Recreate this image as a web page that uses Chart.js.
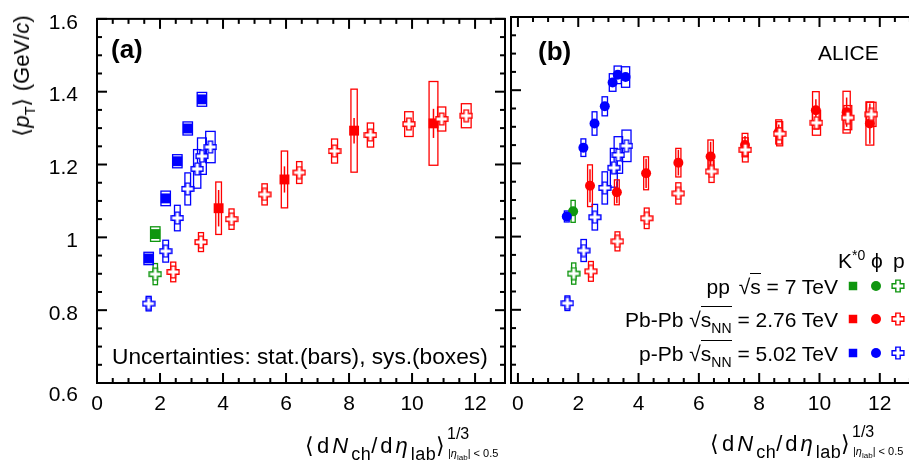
<!DOCTYPE html>
<html>
<head>
<meta charset="utf-8">
<script src="https://cdn.jsdelivr.net/npm/chart.js@4.4.1/dist/chart.umd.min.js"></script>
<style>
body { margin: 0; width: 909px; height: 463px; overflow: hidden; position: relative; background: #fff;
  font-family: "Liberation Sans", Arial, sans-serif; color: #000; }
#ca { position: absolute; left: 0; top: 0; }
#cb { position: absolute; left: 505px; top: 0; }
.t { position: absolute; white-space: nowrap; line-height: 1; }
.xm { font-size: 22px; letter-spacing: 3px; }
.sb { font-size: 18px; position: relative; top: 7px; letter-spacing: 0.5px; }
.ov { border-top: 1.3px solid #000; padding-top: 1px; }
.ovs { font-size: 14px; position: relative; top: 6px; }
</style>
</head>
<body>
<canvas id="ca" width="512" height="463"></canvas>
<canvas id="cb" width="420" height="463"></canvas>

<div class="t" style="left:22px;top:76px;font-size:22px;transform:translate(-50%,-50%) rotate(-90deg);">⟨<i>p</i><span style="font-size:15px;position:relative;top:6px">T</span>⟩ (GeV/<i>c</i>)</div>

<div class="t" style="left:111px;top:36px;font-size:26px;font-weight:bold;">(a)</div>
<div class="t" style="left:538px;top:38px;font-size:26px;font-weight:bold;">(b)</div>
<div class="t" style="left:818px;top:42px;font-size:21px;">ALICE</div>
<div class="t" style="left:112px;top:345px;font-size:22.7px;">Uncertainties: stat.(bars), sys.(boxes)</div>

<div class="t xm" style="left:305px;top:435px;">⟨d<i>N</i><span class="sb">ch</span>/d<i>η</i><span class="sb">lab</span>⟩</div>
<div class="t" style="left:447px;top:426px;font-size:16px;">1/3</div>
<div class="t" style="left:448px;top:448px;font-size:11px;">|<i>η</i><span style="font-size:8px;position:relative;top:3px">lab</span>| &lt; 0.5</div>

<div class="t xm" style="left:710px;top:433px;">⟨d<i>N</i><span class="sb">ch</span>/d<i>η</i><span class="sb">lab</span>⟩</div>
<div class="t" style="left:852px;top:424px;font-size:16px;">1/3</div>
<div class="t" style="left:853px;top:446px;font-size:11px;">|<i>η</i><span style="font-size:8px;position:relative;top:3px">lab</span>| &lt; 0.5</div>

<div class="t" style="left:838px;top:250px;font-size:21px;">K<span style="font-size:14px;position:relative;top:-8px">*0</span></div>
<div class="t" style="left:871px;top:250px;font-size:21px;">ϕ</div>
<div class="t" style="left:893px;top:250px;font-size:21px;">p</div>
<div class="t" style="right:71px;top:276px;font-size:21px;">pp <span style="margin-left:3px">√</span><span class="ov">s</span> = 7 TeV</div>
<div class="t" style="right:71px;top:309px;font-size:21px;">Pb-Pb √<span class="ov">s<span class="ovs">NN</span></span> = 2.76 TeV</div>
<div class="t" style="right:71px;top:343px;font-size:21px;">p-Pb √<span class="ov">s<span class="ovs">NN</span></span> = 5.02 TeV</div>

<script>
var family = '"Liberation Sans", Arial, sans-serif';

// axis ticks
var xTicks = [0, 2, 4, 6, 8, 10, 12];
var yTicks = [0.6, 0.8, 1, 1.2, 1.4, 1.6];
var xMinorStep = 0.5, yMinorStep = 0.05;

// protons, Pb-Pb 2.76 TeV (shown in both panels)
var pPbPbX    = [2.42, 3.30, 4.27, 5.32, 6.42, 7.54, 8.68, 9.90, 10.94, 11.72];
var pPbPbY    = [0.905, 0.987, 1.050, 1.118, 1.178, 1.237, 1.281, 1.311, 1.325, 1.334];
var pPbPbStat = [0.005, 0.005, 0.005, 0.005, 0.005, 0.005, 0.005, 0.005, 0.005, 0.005];
var pPbPbSys  = [0.027, 0.026, 0.028, 0.029, 0.030, 0.033, 0.033, 0.034, 0.033, 0.033];
var pPbPbXSys = [0.08, 0.08, 0.08, 0.085, 0.085, 0.095, 0.10, 0.135, 0.13, 0.155];

// protons, p-Pb 5.02 TeV
var ppPbX    = [1.64, 2.18, 2.55, 2.88, 3.18, 3.33, 3.60];
var ppPbY    = [0.818, 0.962, 1.053, 1.133, 1.188, 1.223, 1.248];
var ppPbStat = [0.004, 0.004, 0.004, 0.004, 0.004, 0.004, 0.004];
var ppPbSys  = [0.020, 0.030, 0.035, 0.044, 0.053, 0.050, 0.043];
var ppPbXSys = [0.08, 0.09, 0.09, 0.09, 0.115, 0.14, 0.15];

// protons, pp 7 TeV
var pppX = [1.85], pppY = [0.899], pppStat = [0.004], pppSys = [0.029], pppXSys = [0.07];

// K*0
var kPbPbX    = [3.86, 5.95, 8.16, 10.68];
var kPbPbY    = [1.080, 1.159, 1.293, 1.313];
var kPbPbStat = [0.050, 0.036, 0.035, 0.040];
var kPbPbSys  = [0.072, 0.078, 0.114, 0.115];
var kPbPbXSys = [0.09, 0.10, 0.10, 0.14];

var kpPbX    = [1.64, 2.18, 2.55, 2.88, 3.33];
var kpPbY    = [0.942, 1.107, 1.209, 1.299, 1.379];
var kpPbStat = [0.005, 0.005, 0.005, 0.005, 0.005];
var kpPbSys  = [0.017, 0.020, 0.018, 0.018, 0.019];
var kpPbXSys = [0.15, 0.15, 0.15, 0.15, 0.15];

var kppX = [1.85], kppY = [1.009], kppStat = [0.005], kppSys = [0.020], kppXSys = [0.15];

// phi
var phiPbPbX    = [2.39, 3.28, 4.25, 5.32, 6.39, 7.53, 8.65, 9.88, 10.90, 11.67];
var phiPbPbY    = [1.139, 1.121, 1.173, 1.202, 1.219, 1.250, 1.286, 1.345, 1.340, 1.309];
var phiPbPbStat = [0.045, 0.030, 0.040, 0.035, 0.040, 0.025, 0.020, 0.030, 0.040, 0.055];
var phiPbPbSys  = [0.057, 0.034, 0.045, 0.039, 0.045, 0.032, 0.033, 0.051, 0.057, 0.059];
var phiPbPbXSys = [0.08, 0.08, 0.08, 0.085, 0.09, 0.095, 0.10, 0.11, 0.12, 0.13];

var phipPbX    = [1.62, 2.17, 2.54, 2.88, 3.14, 3.31, 3.57];
var phipPbY    = [1.055, 1.243, 1.309, 1.356, 1.421, 1.442, 1.436];
var phipPbStat = [0.005, 0.005, 0.005, 0.005, 0.005, 0.005, 0.005];
var phipPbSys  = [0.015, 0.024, 0.032, 0.026, 0.024, 0.024, 0.028];
var phipPbXSys = [0.08, 0.08, 0.08, 0.09, 0.11, 0.12, 0.135];

var phippX = [1.83], phippY = [1.069], phippStat = [0.005], phippSys = [0.030], phippXSys = [0.07];

var RED = '#ff0000', BLUE = '#0000ff', GREEN = '#0f960f';

function crossImg(color) {
  var c = document.createElement('canvas');
  c.width = 14; c.height = 14;
  var g = c.getContext('2d');
  var m = 7, a = 2.2, l = 5.9;
  g.beginPath();
  g.moveTo(m - a, m - l); g.lineTo(m + a, m - l); g.lineTo(m + a, m - a); g.lineTo(m + l, m - a);
  g.lineTo(m + l, m + a); g.lineTo(m + a, m + a); g.lineTo(m + a, m + l); g.lineTo(m - a, m + l);
  g.lineTo(m - a, m + a); g.lineTo(m - l, m + a); g.lineTo(m - l, m - a); g.lineTo(m - a, m - a);
  g.closePath();
  g.fillStyle = '#fff'; g.fill();
  g.strokeStyle = color; g.lineWidth = 1.4; g.stroke();
  return c;
}
var crossRed = crossImg(RED), crossBlue = crossImg(BLUE), crossGreen = crossImg(GREEN);

function ds(xs, ys, stat, sys, xsys, color, style, r) {
  return {
    data: xs.map(function (x, i) { return {x: x, y: ys[i]}; }),
    stat: stat, sys: sys, xsys: xsys,
    backgroundColor: color, borderColor: color,
    pointStyle: style, pointRadius: r, pointBorderWidth: 0, showLine: false
  };
}

// stat bars and sys boxes, behind markers
var errBoxes = {
  id: 'errBoxes',
  beforeDatasetsDraw: function (chart) {
    var ctx = chart.ctx, sx = chart.scales.x, sy = chart.scales.y, a = chart.chartArea;
    ctx.save();
    ctx.beginPath(); ctx.rect(a.left, a.top, a.width, a.height); ctx.clip();
    chart.data.datasets.forEach(function (d) {
      ctx.strokeStyle = d.borderColor;
      d.data.forEach(function (p, i) {
        var x0 = sx.getPixelForValue(p.x - d.xsys[i]), x1 = sx.getPixelForValue(p.x + d.xsys[i]);
        var y0 = sy.getPixelForValue(p.y + d.sys[i]), y1 = sy.getPixelForValue(p.y - d.sys[i]);
        ctx.lineWidth = 1.3;
        ctx.strokeRect(x0, y0, x1 - x0, y1 - y0);
        var px = sx.getPixelForValue(p.x);
        ctx.lineWidth = 1.5;
        ctx.beginPath();
        ctx.moveTo(px, sy.getPixelForValue(p.y + d.stat[i]));
        ctx.lineTo(px, sy.getPixelForValue(p.y - d.stat[i]));
        ctx.stroke();
      });
    });
    ctx.restore();
  }
};

// list of tick values from lo to hi in steps, every 4th one major
function steps(lo, hi, step) {
  var out = [];
  var n0 = Math.ceil(lo / step - 0.001), n1 = Math.floor(hi / step + 0.001);
  for (var n = n0; n <= n1; n++) out.push({v: n * step, major: n % 4 === 0});
  return out;
}

// frame with inward major/minor ticks
var frameTicks = {
  id: 'frameTicks',
  afterDatasetsDraw: function (chart) {
    var ctx = chart.ctx, sx = chart.scales.x, sy = chart.scales.y, a = chart.chartArea;
    var L = a.left, R = a.right, T = a.top, B = a.bottom;
    var xr = chart.options.scales.x, yr = chart.options.scales.y;
    ctx.save();
    ctx.fillStyle = '#000';
    steps(xr.min, xr.max, xMinorStep).forEach(function (t) {
      var p = sx.getPixelForValue(t.v);
      var len = t.major ? 10 : 5;
      ctx.fillRect(p - 1, B - len, 2, len);
      ctx.fillRect(p - 1, T, 2, len);
    });
    steps(yr.min, yr.max, yMinorStep).forEach(function (t) {
      var p = sy.getPixelForValue(t.v);
      var len = t.major ? 10 : 5;
      ctx.fillRect(L, p - 1, len, 2);
      ctx.fillRect(R - len, p - 1, len, 2);
    });
    ctx.strokeStyle = '#000';
    ctx.lineWidth = 2;
    ctx.strokeRect(L, T, R - L, B - T);
    ctx.restore();
  }
};

function xScale(min, max) {
  return {
    type: 'linear', min: min, max: max,
    grid: {display: false}, border: {display: false},
    afterBuildTicks: function (s) { s.ticks = xTicks.map(function (v) { return {value: v}; }); },
    afterFit: function (s) { s.height = 80; },
    ticks: {color: '#000', font: {family: family, size: 21}, padding: 1, autoSkip: false, maxRotation: 0,
      callback: function (v) { return String(v); }}
  };
}

var chartA = new Chart(document.getElementById('ca'), {
  type: 'scatter',
  data: {
    datasets: [
      ds(pPbPbX, pPbPbY, pPbPbStat, pPbPbSys, pPbPbXSys, RED, crossRed, 6),
      ds(ppPbX, ppPbY, ppPbStat, ppPbSys, ppPbXSys, BLUE, crossBlue, 6),
      ds(pppX, pppY, pppStat, pppSys, pppXSys, GREEN, crossGreen, 6),
      ds(kPbPbX, kPbPbY, kPbPbStat, kPbPbSys, kPbPbXSys, RED, 'rect', 7),
      ds(kpPbX, kpPbY, kpPbStat, kpPbSys, kpPbXSys, BLUE, 'rect', 7),
      ds(kppX, kppY, kppStat, kppSys, kppXSys, GREEN, 'rect', 7)
    ]
  },
  options: {
    animation: false, responsive: false,
    layout: {padding: {top: 17, right: 1.5, left: 0, bottom: 0}},
    plugins: {legend: {display: false}, tooltip: {enabled: false}},
    scales: {
      x: xScale(0, 12.95),
      y: {
        type: 'linear', min: 0.6, max: 1.6,
        grid: {display: false}, border: {display: false},
        afterBuildTicks: function (s) { s.ticks = yTicks.map(function (v) { return {value: v}; }); },
        afterFit: function (s) { s.width = 97; },
        ticks: {color: '#000', font: {family: family, size: 21, lineHeight: 0.75}, padding: 11, labelOffset: 4, autoSkip: false,
          // lowest label sits on the x label row, as in the original
          callback: function (v) { return v === yTicks[0] ? ['', String(v)] : String(v); }}
      }
    }
  },
  plugins: [errBoxes, frameTicks]
});

// legend markers for panel (b)
var legendMarks = {
  id: 'legendMarks',
  afterDraw: function (chart) {
    var ctx = chart.ctx;
    var rows = [[286, GREEN, crossGreen], [319, RED, crossRed], [353, BLUE, crossBlue]];
    rows.forEach(function (r) {
      ctx.save();
      ctx.fillStyle = r[1]; ctx.strokeStyle = r[1];
      Chart.helpers.drawPoint(ctx, {pointStyle: 'rect', radius: 6, borderWidth: 0}, 853 - 505, r[0]);
      Chart.helpers.drawPoint(ctx, {pointStyle: 'circle', radius: 5, borderWidth: 0}, 876 - 505, r[0]);
      Chart.helpers.drawPoint(ctx, {pointStyle: r[2], radius: 6, borderWidth: 0}, 898 - 505, r[0]);
      ctx.restore();
    });
  }
};

var chartB = new Chart(document.getElementById('cb'), {
  type: 'scatter',
  data: {
    datasets: [
      ds(pPbPbX, pPbPbY, pPbPbStat, pPbPbSys, pPbPbXSys, RED, crossRed, 6),
      ds(ppPbX, ppPbY, ppPbStat, ppPbSys, ppPbXSys, BLUE, crossBlue, 6),
      ds(pppX, pppY, pppStat, pppSys, pppXSys, GREEN, crossGreen, 6),
      ds(phiPbPbX, phiPbPbY, phiPbPbStat, phiPbPbSys, phiPbPbXSys, RED, 'circle', 5),
      ds(phipPbX, phipPbY, phipPbStat, phipPbSys, phipPbXSys, BLUE, 'circle', 5),
      ds(phippX, phippY, phippStat, phippSys, phippXSys, GREEN, 'circle', 5)
    ]
  },
  options: {
    animation: false, responsive: false,
    layout: {padding: {top: 17, right: 0, left: 6, bottom: 0}},
    plugins: {legend: {display: false}, tooltip: {enabled: false}},
    scales: {
      x: xScale(-0.23, 13.3),
      y: {type: 'linear', min: 0.6, max: 1.6, display: false}
    }
  },
  plugins: [errBoxes, frameTicks, legendMarks]
});
</script>
</body>
</html>
